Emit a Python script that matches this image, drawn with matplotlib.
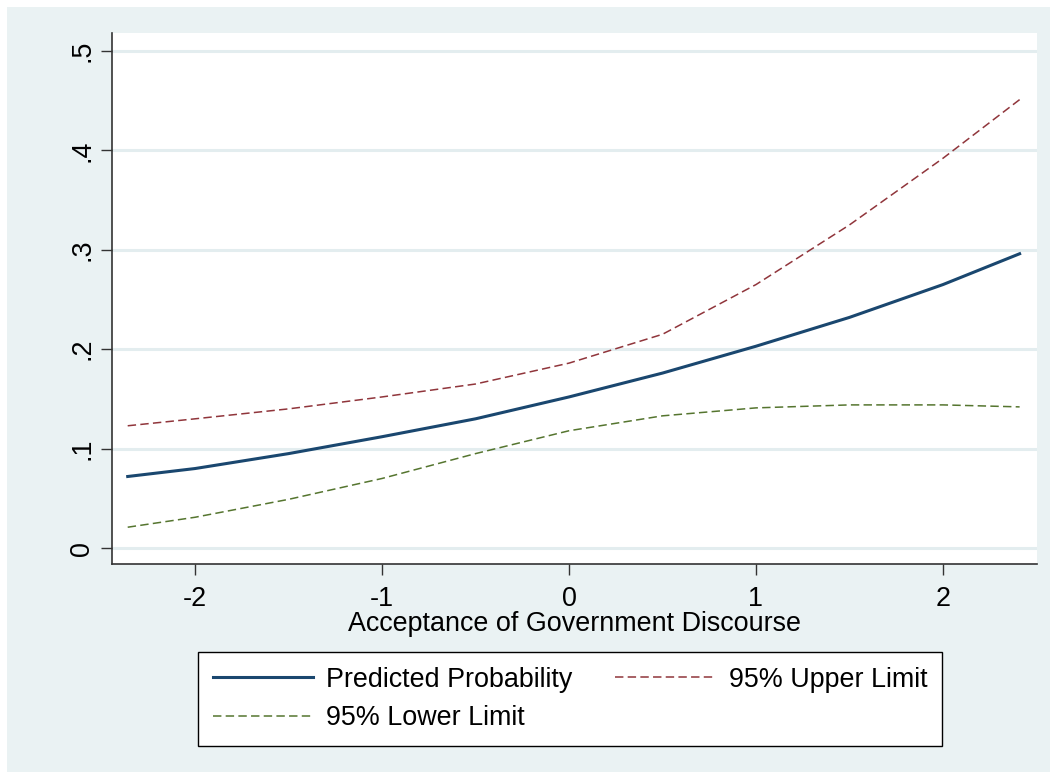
import matplotlib
matplotlib.use("Agg")
import matplotlib.pyplot as plt
from matplotlib.patches import Rectangle

# valores (probabilidad predicha y limites del IC 95%)
x_vals = [-2.36, -2.0, -1.5, -1.0, -0.5, 0.0, 0.5, 1.0, 1.5, 2.0, 2.41]
pred = [0.072, 0.080, 0.095, 0.112, 0.130, 0.152, 0.176, 0.203, 0.232, 0.265, 0.296]
upper = [0.123, 0.130, 0.140, 0.152, 0.165, 0.186, 0.215, 0.265, 0.325, 0.392, 0.451]
lower = [0.021, 0.031, 0.049, 0.070, 0.095, 0.118, 0.133, 0.141, 0.144, 0.144, 0.142]

y_ticks = [0, 0.1, 0.2, 0.3, 0.4, 0.5]
y_labels = ["0", ".1", ".2", ".3", ".4", ".5"]
x_ticks = [-2, -1, 0, 1, 2]
x_labels = ["-2", "-1", "0", "1", "2"]

BG = "#eaf2f3"
GRID = "#e3edef"
FS = 19.4
plt.rcParams["font.family"] = ["Liberation Sans", "DejaVu Sans"]

fig = plt.figure(figsize=(10.5, 7.72), dpi=100)
fig.patch.set_facecolor("white")
fig.patches.append(Rectangle((7 / 1050, 0), 1, 1 - 7 / 772, transform=fig.transFigure,
                             facecolor=BG, edgecolor="none", zorder=-10))

ax = fig.add_axes([112 / 1050, 1 - 564 / 772, (1037 - 112) / 1050, (564 - 33) / 772])
ax.set_facecolor("white")

l1, = ax.plot(x_vals, pred, color="#1a476f", lw=2.2, label="Predicted Probability")
l2, = ax.plot(x_vals, upper, color="#90353b", lw=1.1, dashes=(5.5, 2.8), label="95% Upper Limit")
l3, = ax.plot(x_vals, lower, color="#55752f", lw=1.1, dashes=(5.5, 2.8), label="95% Lower Limit")

ax.set_xlim(-2.444, 2.503)
ax.set_ylim(-0.016, 0.518)
ax.set_yticks(y_ticks)
ax.set_yticklabels(y_labels, rotation=90, va="center")
ax.set_xticks(x_ticks)
ax.set_xticklabels(x_labels)
ax.tick_params(axis="both", length=8, width=1, color="#333333", labelsize=FS)
ax.tick_params(axis="y", pad=4)
ax.tick_params(axis="x", pad=8)
ax.grid(axis="y", color=GRID, lw=2.2)
ax.set_axisbelow(True)
for s in ["top", "right"]:
    ax.spines[s].set_visible(False)
for s in ["left", "bottom"]:
    ax.spines[s].set_color("#333333")
    ax.spines[s].set_linewidth(1.2)
ax.set_xlabel("Acceptance of Government Discourse", fontsize=FS, labelpad=-1)

leg = fig.legend([l1, l3, l2], [l1.get_label(), l3.get_label(), l2.get_label()],
                 ncol=2, loc="upper left", bbox_to_anchor=(198 / 1050, 1 - 652 / 772),
                 fontsize=FS, frameon=True, fancybox=False, handlelength=3.7,
                 columnspacing=1.6, handletextpad=0.5, borderpad=0.55, labelspacing=0.46,
                 borderaxespad=0, framealpha=1)
leg.get_frame().set_edgecolor("black")
leg.get_frame().set_linewidth(1.0)

fig.savefig("out.png", dpi=100, facecolor=fig.get_facecolor())
